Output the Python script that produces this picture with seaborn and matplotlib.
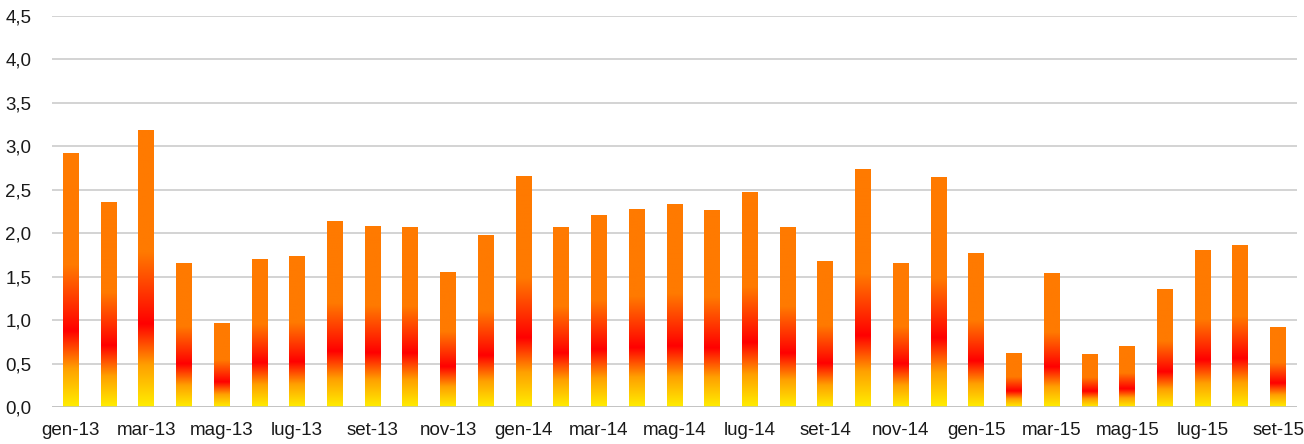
import numpy as np
import pandas as pd
import matplotlib
matplotlib.use("Agg")
import matplotlib.pyplot as plt
import seaborn as sns
from matplotlib.colors import LinearSegmentedColormap

months = ["gen", "feb", "mar", "apr", "mag", "giu", "lug", "ago", "set", "ott", "nov", "dic"]
categories = [f"{m}-{y}" for y in ["13", "14", "15"] for m in months][:33]
values = [2.92, 2.35, 3.18, 1.65, 0.96, 1.70, 1.73, 2.13, 2.08, 2.07, 1.55, 1.97,
          2.65, 2.07, 2.20, 2.27, 2.33, 2.26, 2.47, 2.07, 1.68, 2.73, 1.65, 2.64,
          1.77, 0.62, 1.54, 0.60, 0.70, 1.35, 1.80, 1.86, 0.92]
yticks = [0, 0.5, 1.0, 1.5, 2.0, 2.5, 3.0, 3.5, 4.0, 4.5]

sns.set_theme(style="white")
plt.rcParams['font.family'] = ['Liberation Sans', 'DejaVu Sans']

df = pd.DataFrame({"cat": categories, "val": values})

fig = plt.figure(figsize=(13.04, 4.44), dpi=100)
ax = fig.add_axes([52/1304, 1 - 407/444, (1297-52)/1304, (407-16)/444])

sns.barplot(data=df, x="cat", y="val", ax=ax, width=0.42, color="#FF7A00",
            saturation=1, linewidth=0, zorder=3)

cmap = LinearSegmentedColormap.from_list("fire", [
    (0.0, "#FFEE00"),
    (0.15, "#FFA000"),
    (0.30, "#FF0000"),
    (0.48, "#FF5500"),
    (0.56, "#FF7A00"),
    (1.0, "#FF7A00"),
])
grad = np.linspace(0, 1, 256).reshape(-1, 1)
for p in list(ax.patches):
    x0, y0 = p.get_x(), p.get_y()
    w, h = p.get_width(), p.get_height()
    ax.imshow(grad, cmap=cmap, origin="lower", aspect="auto",
              extent=(x0, x0 + w, y0, y0 + h), zorder=3, interpolation="bilinear")
    p.set_visible(False)

ax.set_xlim(-0.5, len(categories) - 0.5)
ax.set_ylim(0, 4.5)
ax.set_yticks(yticks)
ax.set_yticklabels([f"{t:.1f}".replace(".", ",") for t in yticks], fontsize=13.5, color="#1a1a1a")
ax.set_xticks(range(0, len(categories), 2))
ax.set_xticklabels(categories[::2], fontsize=13.5, color="#1a1a1a")
ax.tick_params(axis="y", length=0, pad=15)
ax.tick_params(axis="x", length=0, pad=11)
ax.yaxis.grid(True, color="#C8C8C8", linewidth=1.1, zorder=0)
ax.set_axisbelow(True)
for s in ax.spines.values():
    s.set_visible(False)
ax.axhline(0, color="#C0C0C0", linewidth=1.1, zorder=4)
ax.set_xlabel("")
ax.set_ylabel("")

fig.savefig("out.png", dpi=100)
